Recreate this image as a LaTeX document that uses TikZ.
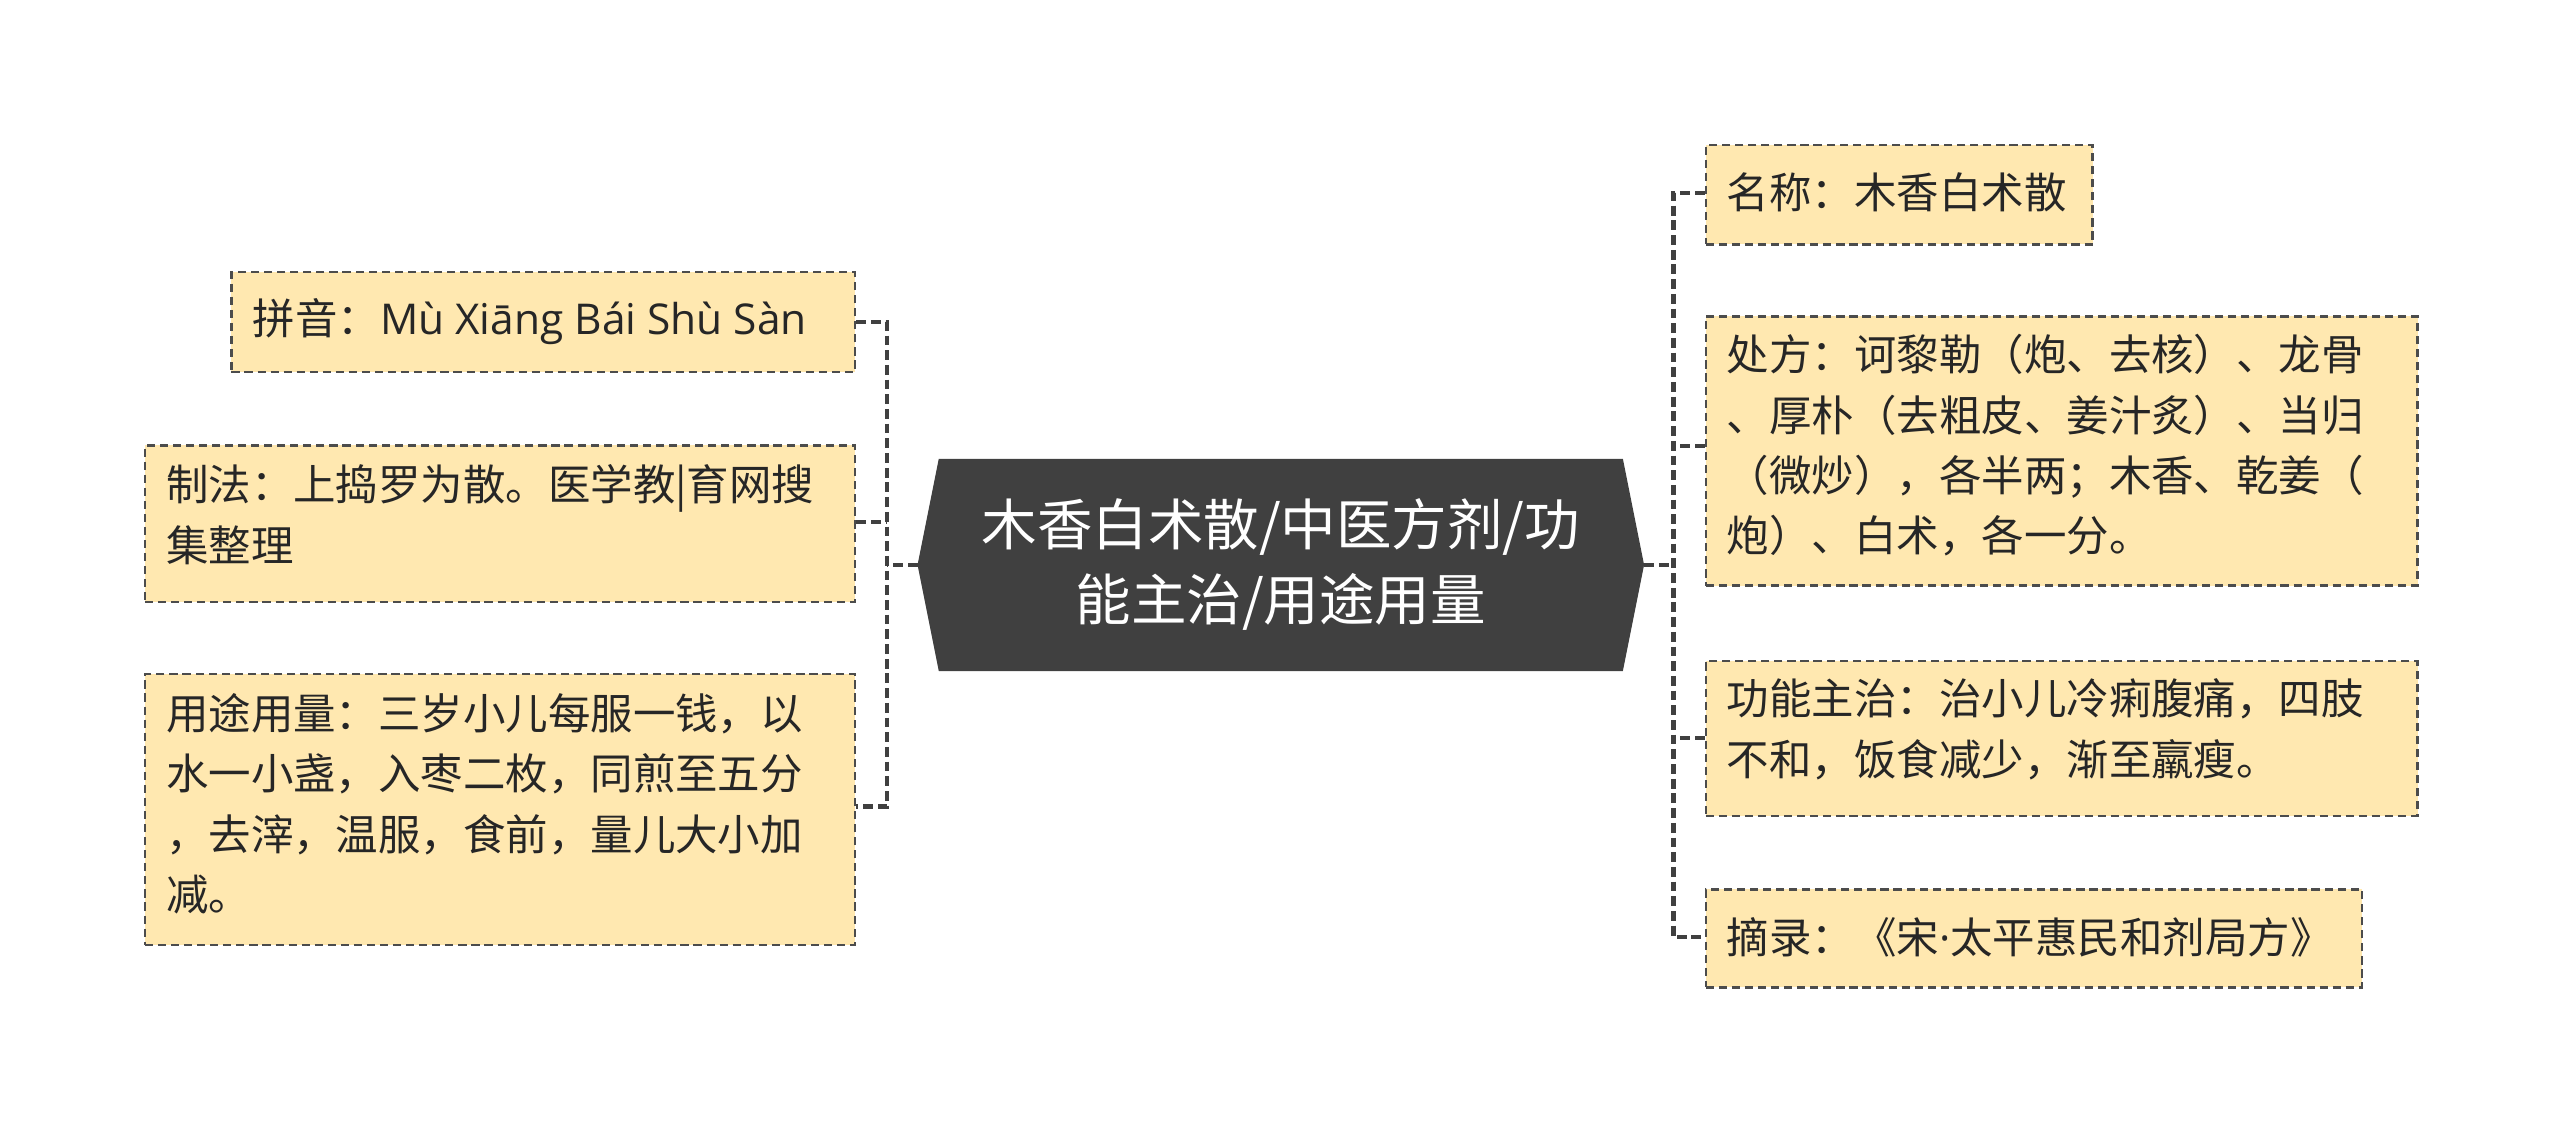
\documentclass[tikz,border=0pt]{standalone}
\usepackage{fontspec}
\setmainfont{Noto Sans CJK SC}
\newfontfamily\lat{Open Sans}
\begin{document}
\begin{tikzpicture}[x=1pt,y=-1pt,
 leaf/.style={draw=black!70,dash pattern=on 5pt off 3pt,line width=1.5pt,fill={rgb,255:red,255;green,232;blue,176},anchor=north west,inner xsep=13pt,inner ysep=0pt,align=left,font=\fontsize{26}{37}\selectfont,text=black!85},
 txt/.style={leaf,draw=none,fill=none},
 conn/.style={draw=black!75,line width=2.5pt,dash pattern=on 6pt off 3pt}]
\useasboundingbox (0,0) rectangle (1568,693);
% center
\fill[black!75] (562,346) -- (575,281) -- (994,281) -- (1007,346) -- (994,411) -- (575,411) -- cycle;
\node[text=white,align=center,font=\fontsize{34}{46}\selectfont] (c) at (784.5,346) {木香白术散/中医方剂/功\\能主治/用途用量};
\coordinate (cl) at (562,346); \coordinate (cr) at (1007,346);
% left
\node[leaf,text width=356pt,minimum height=61pt] (l1) at (141,166) {};
\node[txt,anchor=west] at (141,197) {拼音：{\lat Mù Xiāng Bái Shù Sàn}};
\node[leaf,text width=409pt,minimum height=96pt] (l2) at (88,272) {};
\node[txt] at (88,284) {制法：上捣罗为散。医学教|育网搜\\集整理};
\node[leaf,text width=409pt,minimum height=166pt] (l3) at (88,412) {};
\node[txt] at (88,424) {用途用量：三岁小儿每服一钱，以\\水一小盏，入枣二枚，同煎至五分\\，去滓，温服，食前，量儿大小加\\减。};
% right
\node[leaf,text width=211pt,minimum height=61pt] (r1) at (1044,88) {};
\node[txt,anchor=west] at (1044,118) {名称：木香白术散};
\node[leaf,text width=410pt,minimum height=165pt] (r2) at (1044,193) {};
\node[txt] at (1044,204) {处方：诃黎勒（炮、去核）、龙骨\\、厚朴（去粗皮、姜汁炙）、当归\\（微炒），各半两；木香、乾姜（\\炮）、白术，各一分。};
\node[leaf,text width=410pt,minimum height=95pt] (r3) at (1044,404) {};
\node[txt] at (1044,415) {功能主治：治小儿冷痢腹痛，四肢\\不和，饭食减少，渐至羸瘦。};
\node[leaf,text width=376pt,minimum height=60pt] (r4) at (1044,544) {};
\node[txt,anchor=west] at (1044,574) {摘录：《宋{\lat ·}太平惠民和剂局方》};
% connectors
\coordinate (bl) at (543,346);
\draw[conn] (cl) -- (bl);
\draw[conn] (l1.east |- 0,197) -- (543,197) -- (543,494) -- (l3.east |- 0,494);
\draw[conn] (l2.east |- 0,320) -- (543,320);
\coordinate (br) at (1025,346);
\draw[conn] (cr) -- (br);
\draw[conn] (r1.west |- 0,118) -- (1025,118) -- (1025,574) -- (r4.west |- 0,574);
\draw[conn] (r2.west |- 0,273) -- (1025,273);
\draw[conn] (r3.west |- 0,452) -- (1025,452);
\end{tikzpicture}
\end{document}
